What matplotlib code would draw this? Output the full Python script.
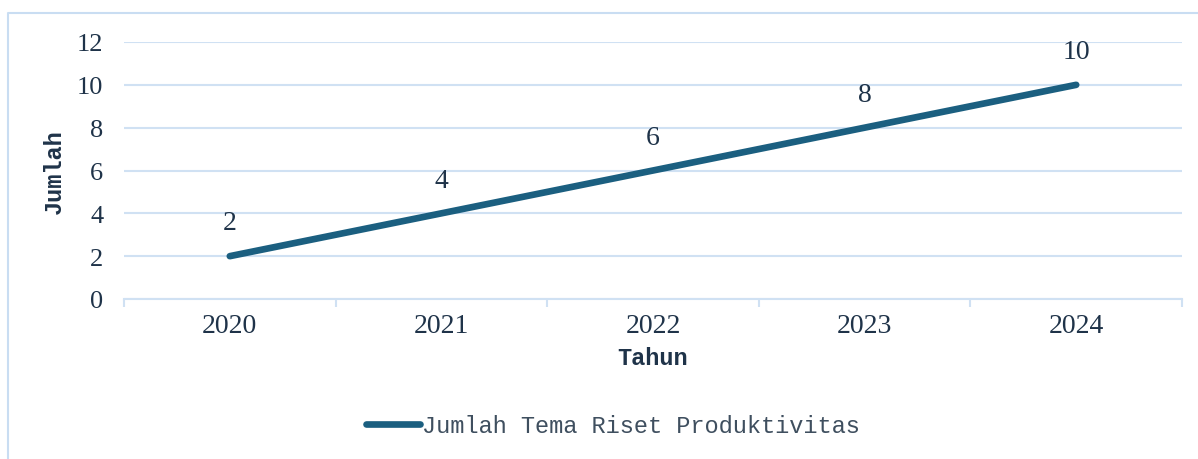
import matplotlib.pyplot as plt
from matplotlib.lines import Line2D

years = ['2020', '2021', '2022', '2023', '2024']
jumlah = [2, 4, 6, 8, 10]
y_ticks = [0, 2, 4, 6, 8, 10, 12]

line_color = '#1B5F80'
text_color = '#1F3349'
grid_color = '#D0E1F3'

fig = plt.figure(figsize=(11.98, 4.6), dpi=100)
ax = fig.add_axes([124 / 1198, 1 - 300 / 460, (1182 - 124) / 1198, (300 - 43) / 460])

x = list(range(len(years)))
ax.plot(x, jumlah, color=line_color, linewidth=4.8, solid_capstyle='round', zorder=3,
        label='Jumlah Tema Riset Produktivitas')
for xi, v in zip(x, jumlah):
    ax.annotate(str(v), (xi, v), xytext=(0, 24), textcoords='offset points', ha='center', va='center',
                fontsize=20, family='Liberation Serif', color=text_color)

ax.set_xlim(-0.5, len(years) - 0.5)
ax.set_ylim(0, 12)
ax.set_yticks(y_ticks)
ax.set_yticklabels([str(t) for t in y_ticks], fontsize=19, family='Liberation Serif', color=text_color)
ax.set_xticks(x)
ax.set_xticklabels(years, fontsize=20, family='Liberation Serif', color=text_color)
ax.set_xticks([i - 0.5 for i in range(len(years) + 1)], minor=True)
ax.tick_params(axis='x', which='major', length=0, pad=10)
ax.tick_params(axis='x', which='minor', length=6, width=1.5, color=grid_color)
ax.tick_params(axis='y', length=0, pad=15)

ax.grid(axis='y', color=grid_color, linewidth=1.5, zorder=0)
for s in ['top', 'right', 'left']:
    ax.spines[s].set_visible(False)
ax.spines['bottom'].set_color(grid_color)
ax.spines['bottom'].set_linewidth(1.5)

ax.set_xlabel('Tahun', fontsize=17, family='Liberation Mono', fontweight='bold', color=text_color, labelpad=6)
ax.set_ylabel('Jumlah', fontsize=17, family='Liberation Mono', fontweight='bold', color=text_color, labelpad=8)

leg = fig.legend(loc='center', bbox_to_anchor=(613 / 1198, 1 - 427 / 460), frameon=False,
                 prop={'family': 'Liberation Mono', 'size': 17}, handlelength=2.3, handletextpad=0.1)
for t in leg.get_texts():
    t.set_color('#3F4F5F')

# chart border (left and top edges visible)
fig.add_artist(Line2D([8 / 1198, 8 / 1198, 1.0], [0, 1 - 14 / 460, 1 - 14 / 460],
                      transform=fig.transFigure, color='#C9DDF2', linewidth=1.5))

fig.savefig('out.png', dpi=100)
